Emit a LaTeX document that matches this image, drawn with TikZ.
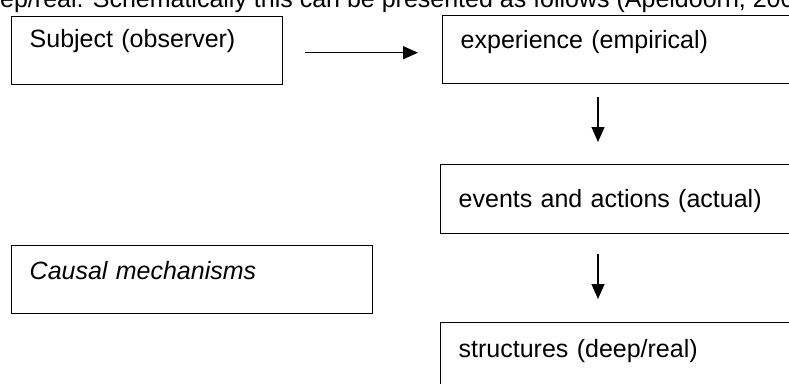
\documentclass[tikz,border=0pt]{standalone}
\usepackage{fontspec}
\setmainfont{Liberation Sans}
\usepackage{xcolor}
\usetikzlibrary{arrows.meta}

\tikzset{
  box/.style={draw, line width=1.4pt, anchor=north west, inner xsep=18pt, inner ysep=0pt,
    align=left, text height=33pt, text depth=35pt, font=\fontsize{25}{30}\selectfont},
  arr/.style={line width=1.3pt, -{Triangle[length=15pt,width=13pt]}}
}

\begin{document}
\begin{tikzpicture}[x=1pt, y=-1pt]
\useasboundingbox (0, 0) rectangle (789, 383);
\clip (0, 0) rectangle (789, 383);

\node[anchor=base west, inner sep=0pt, font=\fontsize{25}{30}\selectfont] (intro) at (0, 7.5)
  {ep/real. Schematically this can be presented as follows (Apeldoorn, 200};

\node[box, text width=235pt, text height=31pt, text depth=37pt] (subj) at (11, 16) {Subject (observer)};
\node[box, text width=344pt] (exp) at (442, 15) {experience (empirical)};
\node[box, text width=344pt, text height=43pt, text depth=26pt] (ev) at (440, 164) {events and actions (actual)};
\node[box, text width=325pt, text height=34pt, text depth=34pt] (caus) at (11, 245) {\itshape Causal mechanisms};
\node[box, text width=344pt, text height=35pt] (str) at (440, 322) {structures (deep/real)};

\coordinate (ax) at (598, 0);

\draw[arr, shorten <=22pt, shorten >=24pt] ([yshift=-2pt]subj.east) -- ([yshift=-2pt]subj.east -| exp.west);
\draw[arr, shorten <=13pt, shorten >=22pt] (exp.south -| ax) -- (ev.north -| ax);
\draw[arr, shorten <=20pt, shorten >=23pt] (ev.south -| ax) -- (str.north -| ax);
\end{tikzpicture}
\end{document}
